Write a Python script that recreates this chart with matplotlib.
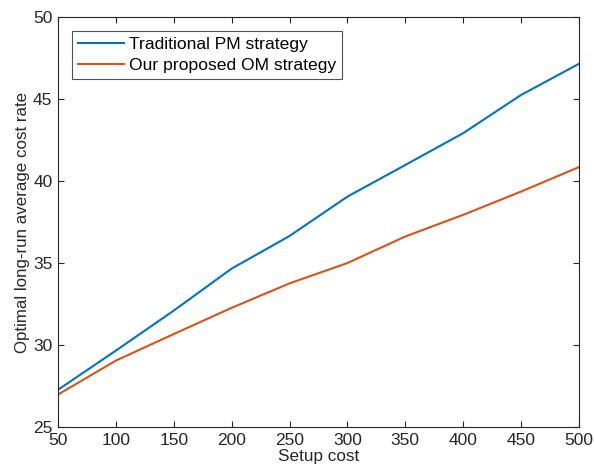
import matplotlib
matplotlib.use("Agg")
import matplotlib.pyplot as plt

setup_cost = [50, 100, 150, 200, 250, 300, 350, 400, 450, 500]
pm_rate = [27.27, 29.66, 32.1, 34.66, 36.65, 39.05, 40.98, 42.92, 45.25, 47.15]
om_rate = [26.98, 29.05, 30.67, 32.27, 33.76, 35.0, 36.62, 37.94, 39.36, 40.85]

plt.rcParams['font.family'] = ['Liberation Sans', 'DejaVu Sans']

fig = plt.figure(figsize=(5.94, 4.75), dpi=100)
ax = fig.add_axes([0.0976, 0.101, 0.877, 0.863])

ax.plot(setup_cost, pm_rate, color='#0072BD', lw=1.5, label='Traditional PM strategy')
ax.plot(setup_cost, om_rate, color='#D95319', lw=1.5, label='Our proposed OM strategy')

ax.set_xlim(50, 500)
ax.set_ylim(25, 50)
ax.set_xticks(range(50, 501, 50))
ax.set_yticks(range(25, 51, 5))

gray = '#262626'
for s in ax.spines.values():
    s.set_color(gray)
    s.set_linewidth(0.8)
ax.tick_params(direction='in', top=True, right=True, length=4, width=0.8,
               color=gray, labelcolor=gray, labelsize=12.5, pad=4)

ax.set_xlabel('Setup cost', fontsize=12.3, color=gray, labelpad=1)
ax.set_ylabel('Optimal long-run average cost rate', fontsize=12.2, color=gray, labelpad=2)

leg = ax.legend(loc='upper left', fontsize=12.6, frameon=True, fancybox=False,
                edgecolor=gray, handlelength=2.6, handletextpad=0.3,
                borderpad=0.35, labelspacing=0.3, borderaxespad=0.8)
leg.get_frame().set_linewidth(0.8)

fig.savefig('out.png', dpi=100)
